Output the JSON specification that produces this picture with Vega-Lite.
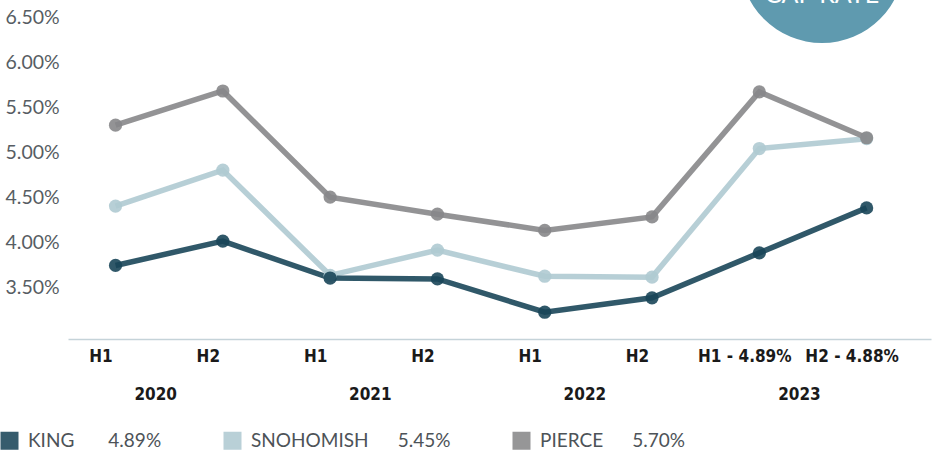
{
  "$schema": "https://vega.github.io/schema/vega-lite/v6.json",
  "width": 863,
  "height": 339,
  "autosize": {"type": "none"},
  "padding": {"left": 68, "top": 0, "right": 4, "bottom": 116},
  "background": "white",
  "config": {"view": {"stroke": null}, "font": "Lato"},
  "data": {
    "values": [
      {"i": 0, "county": "SNOHOMISH", "rate": 4.40},
      {"i": 1, "county": "SNOHOMISH", "rate": 4.80},
      {"i": 2, "county": "SNOHOMISH", "rate": 3.63},
      {"i": 3, "county": "SNOHOMISH", "rate": 3.91},
      {"i": 4, "county": "SNOHOMISH", "rate": 3.62},
      {"i": 5, "county": "SNOHOMISH", "rate": 3.61},
      {"i": 6, "county": "SNOHOMISH", "rate": 5.04},
      {"i": 7, "county": "SNOHOMISH", "rate": 5.15},
      {"i": 0, "county": "KING", "rate": 3.74},
      {"i": 1, "county": "KING", "rate": 4.01},
      {"i": 2, "county": "KING", "rate": 3.60},
      {"i": 3, "county": "KING", "rate": 3.59},
      {"i": 4, "county": "KING", "rate": 3.22},
      {"i": 5, "county": "KING", "rate": 3.38},
      {"i": 6, "county": "KING", "rate": 3.88},
      {"i": 7, "county": "KING", "rate": 4.38},
      {"i": 0, "county": "PIERCE", "rate": 5.30},
      {"i": 1, "county": "PIERCE", "rate": 5.68},
      {"i": 2, "county": "PIERCE", "rate": 4.50},
      {"i": 3, "county": "PIERCE", "rate": 4.31},
      {"i": 4, "county": "PIERCE", "rate": 4.13},
      {"i": 5, "county": "PIERCE", "rate": 4.28},
      {"i": 6, "county": "PIERCE", "rate": 5.67},
      {"i": 7, "county": "PIERCE", "rate": 5.16}
    ]
  },
  "layer": [
    {
      "mark": {"type": "line", "strokeWidth": 5.5, "opacity": 0.9},
      "encoding": {
        "x": {
          "field": "i",
          "type": "quantitative",
          "scale": {"domain": [-0.443, 7.6], "nice": false, "zero": false},
          "axis": {
            "orient": "bottom",
            "title": null,
            "values": [0, 1, 2, 3, 4, 5, 6, 7],
            "labelExpr": "['H1', 'H2', 'H1', 'H2', 'H1', 'H2', 'H1 - 4.89%', 'H2 - 4.88%'][datum.value]",
            "grid": false,
            "ticks": false,
            "tickSize": 0,
            "domain": true,
            "domainColor": "#c5d3d9",
            "domainWidth": 1.5,
            "labelFont": "Liberation Sans Narrow, DejaVu Sans Condensed, sans-serif",
            "labelFontWeight": "bold",
            "labelFontSize": 17,
            "labelColor": "#1a1a1a",
            "labelPadding": 9,
            "labelOffset": -15,
            "labelOverlap": false,
            "labelFlush": false,
            "labelBound": false
          }
        },
        "y": {
          "field": "rate",
          "type": "quantitative",
          "scale": {"domain": [2.922, 6.692], "nice": false, "zero": false},
          "axis": {
            "title": null,
            "values": [3.5, 4, 4.5, 5, 5.5, 6, 6.5],
            "labelExpr": "format(datum.value, '.2f') + '%'",
            "grid": false,
            "ticks": false,
            "tickSize": 0,
            "domain": false,
            "labelFont": "Lato",
            "labelFontSize": 19.5,
            "labelColor": "#575d63",
            "labelAlign": "left",
            "labelPadding": 63,
            "labelOverlap": false,
            "labelFlush": false,
            "labelBound": false
          }
        },
        "color": {
          "field": "county",
          "type": "nominal",
          "scale": {
            "domain": ["KING", "SNOHOMISH", "PIERCE"],
            "range": ["#1a4659", "#afcad1", "#878789"]
          },
          "legend": {
            "orient": "none",
            "legendX": -68,
            "legendY": 431,
            "direction": "horizontal",
            "title": null,
            "symbolType": "square",
            "symbolSize": 324,
            "symbolStrokeWidth": 0,
            "symbolOpacity": 0.88,
            "labelFont": "Lato",
            "labelFontSize": 19,
            "labelColor": "#4d5358",
            "labelOffset": 9,
            "labelLimit": 400,
            "columnPadding": 61,
            "padding": 0,
            "labelExpr": "datum.label === 'KING' ? 'KING\u00a0\u00a0\u00a0\u00a0\u00a0\u00a0\u00a04.89%' : datum.label === 'SNOHOMISH' ? 'SNOHOMISH\u00a0\u00a0\u00a0\u00a0\u00a0\u00a05.45%' : 'PIERCE\u00a0\u00a0\u00a0\u00a0\u00a0\u00a05.70%'",
            "encode": {
              "symbols": {
                "update": {
                  "fill": {"scale": "color", "field": "value"},
                  "stroke": {"value": "transparent"}
                }
              }
            }
          }
        }
      }
    },
    {
      "mark": {"type": "point", "filled": true, "size": 175, "opacity": 0.9},
      "encoding": {
        "x": {"field": "i", "type": "quantitative", "axis": null},
        "y": {"field": "rate", "type": "quantitative"},
        "color": {"field": "county", "type": "nominal"}
      }
    },
    {
      "data": {"values": [{"label": "CAP RATE"}]},
      "mark": {"type": "point", "filled": true, "size": 26896, "color": "#5f9aaf", "opacity": 1, "clip": true},
      "encoding": {
        "x": {
          "datum": 6.584,
          "type": "quantitative",
          "axis": {
            "orient": "bottom",
            "title": null,
            "values": [0.5, 2.5, 4.5, 6.5],
            "labelExpr": "'' + (2020 + floor(datum.value / 2))",
            "grid": false,
            "ticks": false,
            "tickSize": 0,
            "domain": false,
            "labelFont": "Liberation Sans Narrow, DejaVu Sans Condensed, sans-serif",
            "labelFontWeight": "bold",
            "labelFontSize": 17,
            "labelColor": "#1a1a1a",
            "labelPadding": 47,
            "labelOffset": -14,
            "labelOverlap": false,
            "labelFlush": false,
            "labelBound": false
          }
        },
        "y": {"datum": 7.125, "type": "quantitative"}
      }
    },
    {
      "data": {"values": [{"label": "CAP RATE"}]},
      "mark": {"type": "text", "color": "white", "fontSize": 25, "font": "Lato", "baseline": "alphabetic", "align": "center", "clip": true},
      "encoding": {
        "x": {"datum": 6.584, "type": "quantitative", "axis": null},
        "y": {"datum": 6.66, "type": "quantitative"},
        "text": {"field": "label"}
      }
    }
  ],
  "resolve": {"axis": {"x": "independent"}}
}
